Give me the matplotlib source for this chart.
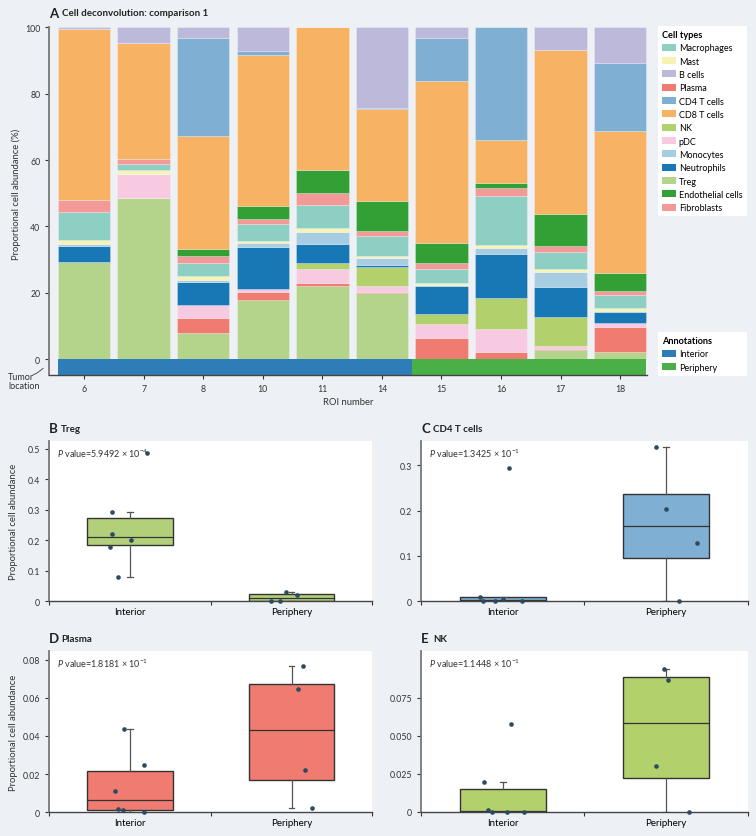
import numpy as np
import matplotlib.pyplot as plt
from matplotlib.patches import Patch

plt.rcParams['font.family'] = ['Lato', 'DejaVu Sans']
plt.rcParams['mathtext.fontset'] = 'custom'
plt.rcParams['mathtext.rm'] = 'Lato'
plt.rcParams['mathtext.it'] = 'Lato:italic'

# ---- data (percent of cells per ROI) ----
roi = ['6', '7', '8', '10', '11', '14', '15', '16', '17', '18']
location = ['Interior'] * 6 + ['Periphery'] * 4

treg = [29.3, 48.5, 8.0, 17.8, 22.0, 20.0, 0.0, 0.0, 2.9, 2.1]
plasma = [0.1, 0.0, 4.35, 2.5, 1.1, 0.15, 6.45, 2.2, 0.2, 7.65]
pdc = [0.0, 7.3, 3.9, 0.8, 4.0, 2.0, 4.2, 7.0, 1.0, 1.2]
nk = [0.0, 0.0, 0.1, 0.0, 2.0, 5.8, 3.0, 9.4, 8.7, 0.0]
neutrophils = [4.6, 0.0, 6.8, 12.8, 5.7, 0.4, 8.5, 13.0, 9.1, 3.4]
monocytes = [0.6, 0.0, 0.6, 1.0, 3.6, 2.2, 0.3, 1.9, 4.4, 0.3]
mast = [1.3, 1.2, 1.2, 0.8, 1.0, 0.6, 0.6, 1.0, 0.9, 0.8]
macrophages = [8.5, 1.7, 4.2, 5.2, 7.1, 5.9, 4.3, 14.7, 5.0, 4.0]
fibroblasts = [3.6, 1.6, 1.9, 1.3, 3.5, 1.5, 1.7, 2.5, 1.8, 1.1]
endothelial = [0.0, 0.0, 2.3, 4.1, 7.1, 9.0, 6.0, 1.4, 9.7, 5.5]
cd8 = [51.4, 34.9, 34.0, 45.4, 42.9, 27.75, 48.85, 12.9, 49.5, 42.75]
cd4 = [0.0, 0.0, 29.4, 1.0, 0.0, 0.4, 12.8, 34.0, 0.0, 20.3]
b_cells = [0.6, 4.8, 3.25, 7.3, 0.0, 24.3, 3.3, 0.0, 6.8, 10.9]

# stacking order, bottom to top
stack = [
    ('Treg', treg), ('Plasma', plasma), ('pDC', pdc), ('NK', nk),
    ('Neutrophils', neutrophils), ('Monocytes', monocytes), ('Mast', mast),
    ('Macrophages', macrophages), ('Fibroblasts', fibroblasts),
    ('Endothelial cells', endothelial), ('CD8 T cells', cd8),
    ('CD4 T cells', cd4), ('B cells', b_cells),
]
legend_order = ['Macrophages', 'Mast', 'B cells', 'Plasma', 'CD4 T cells',
                'CD8 T cells', 'NK', 'pDC', 'Monocytes', 'Neutrophils',
                'Treg', 'Endothelial cells', 'Fibroblasts']

colors = {
    'Macrophages': '#8ECFC4', 'Mast': '#F8F3B3', 'B cells': '#BDB9DA',
    'Plasma': '#F07C71', 'CD4 T cells': '#7FB0D3', 'CD8 T cells': '#F7B263',
    'NK': '#B2D06B', 'pDC': '#F8CAE2', 'Monocytes': '#A7CDE2',
    'Neutrophils': '#1878B5', 'Treg': '#B3D48A', 'Endothelial cells': '#33A035',
    'Fibroblasts': '#F39A99',
}
loc_colors = {'Interior': '#2F7DB8', 'Periphery': '#4BAF48'}

# box plot panels: (letter, title, values, p value text, box colour, ticks, tick labels)
panels = [
    ('B', 'Treg', treg, '5.9492', '-4', '#B2D07A',
     [0, 0.1, 0.2, 0.3, 0.4, 0.5], ['0', '0.1', '0.2', '0.3', '0.4', '0.5']),
    ('C', 'CD4 T cells', cd4, '1.3425', '-1', '#7FB0D3',
     [0, 0.1, 0.2, 0.3], ['0', '0.1', '0.2', '0.3']),
    ('D', 'Plasma', plasma, '1.8181', '-1', '#F07C71',
     [0, 0.02, 0.04, 0.06, 0.08], ['0', '0.02', '0.04', '0.06', '0.08']),
    ('E', 'NK', nk, '1.1448', '-1', '#B2D06B',
     [0, 0.025, 0.05, 0.075], ['0', '0.025', '0.050', '0.075']),
]
# horizontal jitter of the strip points (fraction of a category band), per ROI
jitter = {
    'B': [-0.112, 0.107, -0.077, -0.126, -0.114, 0.004, -0.128, -0.074, -0.033, 0.033],
    'C': [-0.118, -0.044, 0.04, -0.138, 0.12, 0.0, 0.19, -0.064, 0.079, 0.0],
    'D': [-0.045, 0.087, -0.035, 0.087, -0.093, -0.072, 0.037, 0.085, 0.128, 0.068],
    'E': [-0.064, 0.026, -0.087, 0.128, -0.113, 0.054, -0.064, -0.011, 0.013, 0.14],
}

BG = '#EDF0F5'
TXT = '#333333'
W, H = 756, 837
fig = plt.figure(figsize=(W / 100, H / 100), dpi=100, facecolor=BG)


def fax(x0, y0, x1, y1):
    """axes from a pixel box (top-left origin)"""
    return fig.add_axes([x0 / W, 1 - y1 / H, (x1 - x0) / W, (y1 - y0) / H])


def style_spines(ax):
    for s in ['top', 'right']:
        ax.spines[s].set_visible(False)
    ax.spines['left'].set_color('#777777')
    ax.spines['left'].set_linewidth(1.3)
    ax.spines['bottom'].set_color('#444444')
    ax.spines['bottom'].set_linewidth(1.0)
    ax.tick_params(labelsize=6.3, colors=TXT, length=3, width=0.8)


# ---- panel A: stacked bars ----
ax = fax(49.3, 27.5, 646.7, 376)
ax.set_facecolor(BG)
x = np.arange(len(roi))
bottom = np.zeros(len(roi))
for name, vals in stack:
    vals = np.array(vals)
    ax.bar(x, vals, bottom=bottom, width=0.88, color=colors[name],
           edgecolor=(1, 1, 1, 0.45), linewidth=0.4)
    bottom += vals

strip_h = 4.7
left = np.clip(x - 0.5, -0.44, None)
right = np.clip(x + 0.5, None, 9.44)
ax.bar(left, strip_h, width=right - left, bottom=-strip_h, align='edge',
       color=[loc_colors[l] for l in location], linewidth=0)

ax.set_xlim(-0.583, 9.445)
ax.set_ylim(-strip_h, 100.2)
ax.set_yticks([0, 20, 40, 60, 80, 100])
ax.set_xticks(x, roi)
style_spines(ax)

fig.text(49 / W, 1 - 14 / H, 'A', fontsize=9.5, fontweight='bold', va='center', color='#222')
fig.text(62 / W, 1 - 14 / H, 'Cell deconvolution: comparison 1', fontsize=7,
         fontweight='bold', va='center', color='#222')
fig.text(16 / W, 1 - 194 / H, 'Proportional cell abundance (%)', rotation=90,
         fontsize=6.8, ha='center', va='center', color=TXT)
fig.text(348 / W, 1 - 403 / H, 'ROI number', fontsize=6.8, ha='center', va='center', color=TXT)
fig.text(8 / W, 1 - 382 / H, 'Tumor\nlocation', fontsize=6.5, ha='left', va='center',
         color=TXT, linespacing=1.1)
fig.add_artist(plt.Line2D([33 / W, 37 / W, 43 / W], [1 - 376 / H, 1 - 374 / H, 1 - 369.5 / H],
                          color='#555', lw=0.7))

leg_kw = dict(frameon=True, fancybox=False, facecolor='white', edgecolor='none',
              framealpha=1, fontsize=6.5, alignment='left',
              title_fontproperties={'weight': 'bold', 'size': 6.6},
              handlelength=1.5, handleheight=0.8, labelspacing=0.48, borderpad=0.45,
              handletextpad=0.35, borderaxespad=0)

handles = [Patch(facecolor=colors[n], edgecolor='none') for n in legend_order]
fig.legend(handles, legend_order, loc='upper left', mode='expand',
           bbox_to_anchor=(658 / W, 1 - 214 / H, 89 / W, 187 / H),
           title='Cell types', **leg_kw)

handles2 = [Patch(facecolor=loc_colors[n], edgecolor='none') for n in ['Interior', 'Periphery']]
fig.legend(handles2, ['Interior', 'Periphery'], loc='lower left', mode='expand',
           bbox_to_anchor=(658 / W, 1 - 376.7 / H, 89 / W, 42.7 / H),
           title='Annotations', **leg_kw)

# ---- panels B-E: box plots ----
boxes = {
    'B': (49.3, 441.7, 372.3, 602.3, 0.527),
    'C': (421, 441.7, 747.7, 602.3, 0.354),
    'D': (49.3, 651.7, 372.3, 813.3, 0.0847),
    'E': (421, 651.7, 747.7, 813.0, 0.1061),
}
for letter, title, vals, p_mant, p_exp, fc, ticks, ticklabels in panels:
    x0, y0, x1, y1, ytop = boxes[letter]
    bx = fax(x0, y0, x1, y1)
    bx.set_facecolor('white')
    frac = np.array(vals) / 100
    groups = [frac[[l == g for l in location]] for g in ['Interior', 'Periphery']]
    bx.boxplot(groups, positions=[0, 1], widths=0.527, patch_artist=True,
               showfliers=False, capwidths=0.035,
               boxprops=dict(facecolor=fc, edgecolor='#333', linewidth=1),
               medianprops=dict(color='#333', linewidth=0.9),
               whiskerprops=dict(color='#555', linewidth=0.9),
               capprops=dict(color='#555', linewidth=0.9))
    px = np.array([0 if l == 'Interior' else 1 for l in location]) + np.array(jitter[letter])
    bx.scatter(px, frac, s=11, color='#2C4A60', zorder=5, clip_on=False, linewidths=0)
    bx.set_xlim(-0.5, 1.5)
    bx.set_ylim(0, ytop)
    bx.set_yticks(ticks, ticklabels)
    bx.set_xticks([-0.5, 0.5, 1.5], ['', '', ''])
    bx.set_xticks([0, 1], ['Interior', 'Periphery'], minor=True)
    style_spines(bx)
    bx.tick_params(axis='x', which='minor', length=0, labelsize=7, pad=4)
    bx.tick_params(axis='x', which='major', length=3)

    wpx, hpx = x1 - x0, y1 - y0
    bx.text(8 / wpx, 1 - 12 / hpx, r'$P$ value=' + p_mant + ' × 10$^{' + p_exp + '}$',
            transform=bx.transAxes, fontsize=6.5, va='center', ha='left', color=TXT)
    ty = y0 - 12.5
    fig.text(x0 / W, 1 - ty / H, letter, fontsize=9.5, fontweight='bold', va='center', color='#222')
    fig.text((x0 + 12) / W, 1 - ty / H, title, fontsize=7, fontweight='bold', va='center', color='#222')
    if letter in ('B', 'D'):
        fig.text(14 / W, 1 - (y0 + y1) / 2 / H, 'Proportional cell abundance', rotation=90,
                 fontsize=6.8, ha='center', va='center', color=TXT)

fig.savefig('out.png', dpi=100, facecolor=BG)
